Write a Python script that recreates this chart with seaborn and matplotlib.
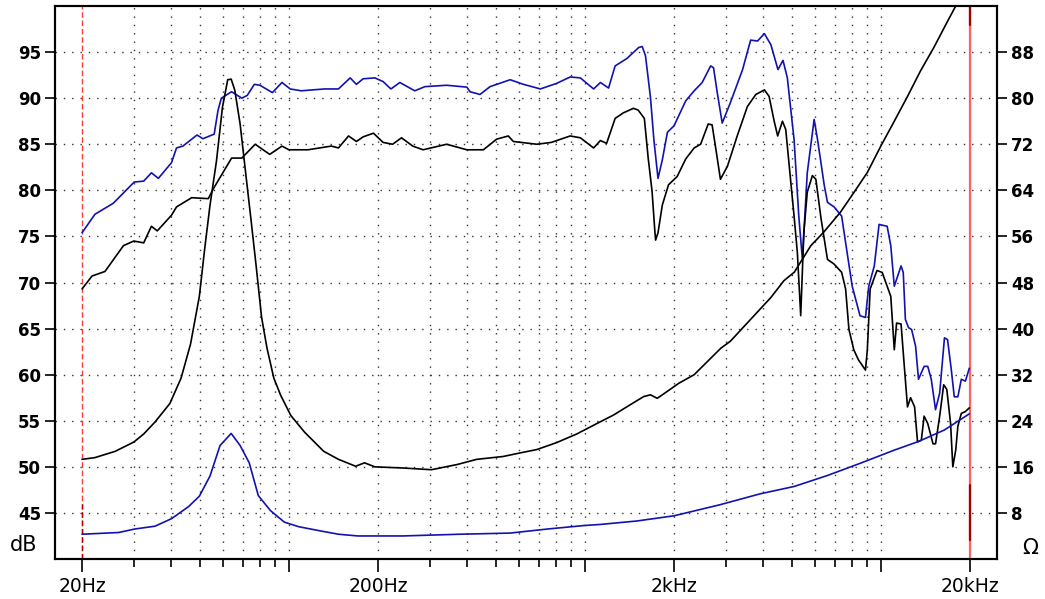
import matplotlib
matplotlib.use("Agg")
import matplotlib.pyplot as plt
import numpy as np
import pandas as pd
import seaborn as sns
from matplotlib.ticker import FixedLocator, FixedFormatter, NullFormatter

# SPL, upper (blue) trace
spl_blue_f = [20, 22.1, 25.5, 30, 32.3, 34.3, 36.2, 40.1, 41.7, 43.8, 48.9, 51.2, 55.9, 57.6, 59.1,
              64, 69.3, 72.3, 76.4, 79.8, 87.9, 94.7, 101, 110, 132, 147, 161, 169, 178, 195,
              208, 221, 237, 266, 288, 341, 399, 409, 442, 478, 559, 620, 707, 802, 892,
              965, 1070, 1128, 1202, 1265, 1386, 1520, 1562, 1602, 1665, 1711, 1766, 1826, 1900, 2000,
              2190, 2340, 2490, 2660, 2720, 2800, 2910, 3100, 3410, 3630, 3830, 4040, 4250, 4490, 4670,
              4830, 5090, 5280, 5430, 5640, 5950, 6110, 6440, 6600, 6950, 7370, 7660, 8000, 8500, 8870,
              9100, 9500, 9860, 10500, 10800, 11100, 11700, 11900, 12100, 12400, 12700, 13100, 13400, 14000, 14400,
              14800, 15300, 15800, 16400, 16800, 17300, 17700, 18200, 18700, 19300, 19900]
spl_blue_db = [75.4, 77.4, 78.6, 80.9, 81.0, 81.9, 81.3, 83.0, 84.6, 84.8, 86.0, 85.6, 86.1, 88.7, 90.0,
               90.7, 90.0, 90.3, 91.5, 91.4, 90.6, 91.7, 91.0, 90.8, 91.0, 91.0, 92.2, 91.5, 92.1, 92.2,
               91.8, 91.0, 91.7, 90.8, 91.25, 91.4, 91.2, 90.7, 90.4, 91.25, 92.0, 91.5, 91.0, 91.6, 92.3,
               92.2, 91.0, 91.7, 91.1, 93.5, 94.3, 95.5, 95.6, 94.6, 90.1, 85.4, 81.3, 83.3, 86.3, 87.0,
               89.7, 90.8, 91.7, 93.5, 93.3, 90.6, 87.3, 89.5, 93.1, 96.3, 96.2, 97.0, 95.8, 93.1, 94.1,
               92.2, 85.5, 77.2, 72.5, 81.9, 87.7, 85.5, 80.5, 78.7, 78.2, 77.2, 73.6, 69.6, 66.4, 66.2,
               69.6, 71.8, 76.3, 76.1, 74.0, 69.6, 71.8, 71.1, 66.0, 65.1, 64.9, 63.1, 59.5, 60.9, 60.9,
               59.5, 56.2, 58.0, 64.0, 63.8, 60.5, 57.6, 57.6, 59.5, 59.3, 60.7]

# SPL, lower (black) trace
spl_black_f = [20, 21.6, 23.9, 27.6, 29.9, 32.3, 34.3, 35.9, 40.1, 41.7, 46.9, 53.4, 55.6, 64, 69.3,
               76.9, 86.1, 94.7, 100, 116, 139, 147, 159, 169, 178, 193, 208, 224, 240, 262,
               284, 341, 399, 454, 503, 551, 573, 688, 770, 892, 965, 1070, 1128, 1184, 1265,
               1347, 1459, 1514, 1588, 1636, 1686, 1721, 1733, 1766, 1826, 1916, 2050, 2190, 2340, 2460,
               2610, 2690, 2760, 2870, 3030, 3270, 3540, 3780, 4040, 4190, 4360, 4480, 4650, 4770, 4890,
               5090, 5220, 5360, 5490, 5640, 5870, 6030, 6280, 6600, 6950, 7370, 7600, 7800, 8100, 8400,
               8870, 9000, 9200, 9700, 10100, 10800, 11100, 11300, 11700, 12000, 12300, 12600, 13000, 13300, 13700,
               14000, 14400, 15000, 15300, 15800, 16300, 16700, 17200, 17500, 17900, 18200, 18700, 19300, 19900]
spl_black_db = [69.3, 70.7, 71.2, 74.0, 74.5, 74.3, 76.1, 75.6, 77.3, 78.2, 79.2, 79.1, 80.2, 83.5, 83.5,
                85.0, 83.9, 84.8, 84.4, 84.4, 84.8, 84.6, 85.9, 85.3, 85.8, 86.2, 85.2, 85.0, 85.7, 84.8,
                84.4, 85.0, 84.4, 84.4, 85.55, 85.9, 85.3, 85.0, 85.2, 85.9, 85.7, 84.6, 85.4, 85.1, 87.8,
                88.4, 88.9, 88.7, 87.8, 83.5, 79.9, 75.8, 74.6, 75.4, 78.4, 80.6, 81.5, 83.4, 84.6, 85.0,
                87.2, 87.1, 84.8, 81.2, 82.6, 85.9, 89.1, 90.4, 90.9, 90.2, 87.5, 85.9, 87.5, 86.6, 83.0,
                77.2, 73.3, 66.4, 75.4, 79.8, 81.6, 81.2, 76.9, 72.5, 72.0, 71.1, 69.3, 64.9, 62.7, 61.6,
                60.5, 62.7, 69.3, 71.3, 71.1, 68.5, 62.7, 65.6, 65.5, 60.9, 56.5, 57.5, 56.5, 52.7, 52.9,
                55.5, 54.7, 52.5, 52.5, 55.5, 58.9, 58.4, 54.7, 50.0, 51.8, 54.4, 55.8, 56.0, 56.4]

# impedance, black trace (ohm)
imp_black_f = [20, 22.1, 25.9, 29.9, 32.3, 35.3, 39.6, 43.2, 46.5, 49.8, 51.9, 54.1, 56.9, 59.6, 62.1,
               63.8, 65.6, 68.4, 71.3, 74.4, 77.5, 80.8, 84.3, 88.9, 93.8, 101.5, 113, 131, 147, 168,
               180, 195, 242, 303, 370, 431, 530, 602, 688, 802, 938, 1096, 1250, 1425, 1580,
               1665, 1755, 1850, 2075, 2340, 2880, 3100, 3630, 4250, 4700, 5100, 5800, 6400, 7300, 8100,
               9000, 10000, 11100, 12300, 13600, 15100, 16700, 17900]
imp_black_ohm = [17.3, 17.6, 18.7, 20.3, 21.7, 23.8, 27.0, 31.4, 37.3, 45.6, 53.8, 61.4, 69.1, 78.4, 83.2,
                 83.3, 81.4, 75.5, 67.3, 59.0, 50.8, 42.0, 36.6, 31.4, 28.4, 24.9, 22.0, 18.7, 17.3, 16.1,
                 16.7, 16.0, 15.8, 15.5, 16.4, 17.3, 17.8, 18.4, 19.0, 20.2, 21.7, 23.5, 25.0, 26.8, 28.2,
                 28.5, 27.9, 28.7, 30.5, 32.0, 36.6, 37.8, 41.6, 45.4, 48.3, 49.8, 54.4, 56.7, 60.2, 63.6,
                 67.1, 71.7, 76.0, 80.3, 84.7, 88.8, 93.1, 96.0]

# impedance, blue trace (ohm)
imp_blue_f = [20, 26.6, 30.1, 35.3, 40.1, 45.8, 49.8, 54.1, 58.5, 63.8, 68.4, 73.4, 78.8, 86.6, 96.5,
              108, 127, 147, 171, 208, 242, 378, 559, 746, 988, 1128, 1500, 2000, 2850, 3900,
              5100, 6600, 8500, 11100, 13400, 16400, 19900]
imp_blue_ohm = [4.3, 4.6, 5.2, 5.7, 7.0, 9.1, 10.9, 14.4, 19.7, 21.8, 19.7, 16.7, 11.0, 8.4, 6.4,
                5.6, 4.9, 4.3, 4.0, 4.0, 4.0, 4.3, 4.5, 5.2, 5.8, 6.0, 6.6, 7.5, 9.4, 11.3,
                12.6, 14.5, 16.6, 18.9, 20.4, 22.4, 25.2]

x_major = [20, 100, 200, 1000, 2000, 10000, 20000]
x_major_labels = ["20Hz", "", "200Hz", "", "2kHz", "", "20kHz"]
x_minor = [30, 40, 50, 60, 70, 80, 90, 300, 400, 500, 600, 700, 800, 900,
           3000, 4000, 5000, 6000, 7000, 8000, 9000]
db_ticks = [45, 50, 55, 60, 65, 70, 75, 80, 85, 90, 95]
ohm_ticks = [8, 16, 24, 32, 40, 48, 56, 64, 72, 80, 88]

BLUE = "#1212b0"
dots = (0, (1, 5))

sns.set_style("white")
plt.rcParams["font.family"] = ["DejaVu Sans"]
plt.rcParams["text.color"] = "black"
plt.rcParams["xtick.color"] = "black"
plt.rcParams["ytick.color"] = "black"

fig = plt.figure(figsize=(10.45, 5.99), dpi=100)
ax = fig.add_axes([55 / 1045, 40 / 599, 942 / 1045, 553 / 599])
ax.set_xscale("log")
ax.set_xlim(16.2, 24680)
ax.set_ylim(40, 100)

# dotted grid
ax.set_yticks(db_ticks)
ax.yaxis.grid(True, linestyle=dots, color="#333333", linewidth=1.0)
for f in x_minor + [100, 200, 1000, 2000, 10000]:
    ax.axvline(f, linestyle=dots, color="#333333", linewidth=1.0, zorder=0.5)

# reference lines at 20 Hz and 20 kHz
ax.axvline(20, color="#ff3c3c", linestyle=(0, (4, 2)), linewidth=1.0, zorder=1.5)
ax.axvline(20, ymin=0, ymax=0.1, color="#b00000", linestyle=(0, (4, 2)), linewidth=1.0, zorder=1.6)
ax.axvline(20000, color="#ff6060", linewidth=1.6, zorder=1.5)
ax.axvline(20000, ymin=0.966, ymax=1, color="#a00000", linewidth=1.6, zorder=1.6)
ax.axvline(20000, ymin=0.034, ymax=0.134, color="#a00000", linewidth=1.6, zorder=1.6)

df_sb = pd.DataFrame({"freq": spl_blue_f, "level": spl_blue_db})
df_sk = pd.DataFrame({"freq": spl_black_f, "level": spl_black_db})
sns.lineplot(data=df_sb, x="freq", y="level", ax=ax, color=BLUE, linewidth=1.2, estimator=None, sort=False)
sns.lineplot(data=df_sk, x="freq", y="level", ax=ax, color="black", linewidth=1.2, estimator=None, sort=False)

ax2 = ax.twinx()
ax2.set_ylim(0, 96)
df_ik = pd.DataFrame({"freq": imp_black_f, "ohm": imp_black_ohm})
df_ib = pd.DataFrame({"freq": imp_blue_f, "ohm": imp_blue_ohm})
sns.lineplot(data=df_ik, x="freq", y="ohm", ax=ax2, color="black", linewidth=1.2, estimator=None, sort=False)
sns.lineplot(data=df_ib, x="freq", y="ohm", ax=ax2, color=BLUE, linewidth=1.2, estimator=None, sort=False)
ax2.set_xlim(16.2, 24680)

ax.set_xlabel("")
ax.set_ylabel("")
ax2.set_xlabel("")
ax2.set_ylabel("")

# x ticks
ax.xaxis.set_major_locator(FixedLocator(x_major))
ax.xaxis.set_major_formatter(FixedFormatter(x_major_labels))
ax.xaxis.set_minor_locator(FixedLocator(x_minor))
ax.xaxis.set_minor_formatter(NullFormatter())
ax.tick_params(axis="x", which="major", direction="out", length=9, width=1.2, pad=4, bottom=True,
               colors="black")
ax.tick_params(axis="x", which="minor", direction="out", length=6, width=1.2, bottom=True, colors="black")
for lbl in ax.get_xticklabels():
    lbl.set_family(["Liberation Sans Narrow", "DejaVu Sans"])
    lbl.set_fontsize(13.5)
    lbl.set_color("black")

# y ticks
ax.tick_params(axis="y", direction="out", length=7, width=1.2, pad=3, left=True, labelsize=12,
               colors="black")
ax2.set_yticks(ohm_ticks)
ax2.tick_params(axis="y", direction="out", length=7, width=1.2, pad=3, right=True, labelsize=12,
                colors="black")
for lbl in ax.get_yticklabels() + ax2.get_yticklabels():
    lbl.set_fontweight("bold")
    lbl.set_color("black")

for a in (ax, ax2):
    for s in a.spines.values():
        s.set_color("black")
        s.set_linewidth(1.5)

fig.text(10 / 1045, 1 - 545 / 599, "dB", fontsize=15, va="center", ha="left", color="black")
fig.text(1022 / 1045, 1 - 548 / 599, "Ω", fontsize=15, va="center", ha="left", color="black")

fig.savefig("out.png", dpi=100)
